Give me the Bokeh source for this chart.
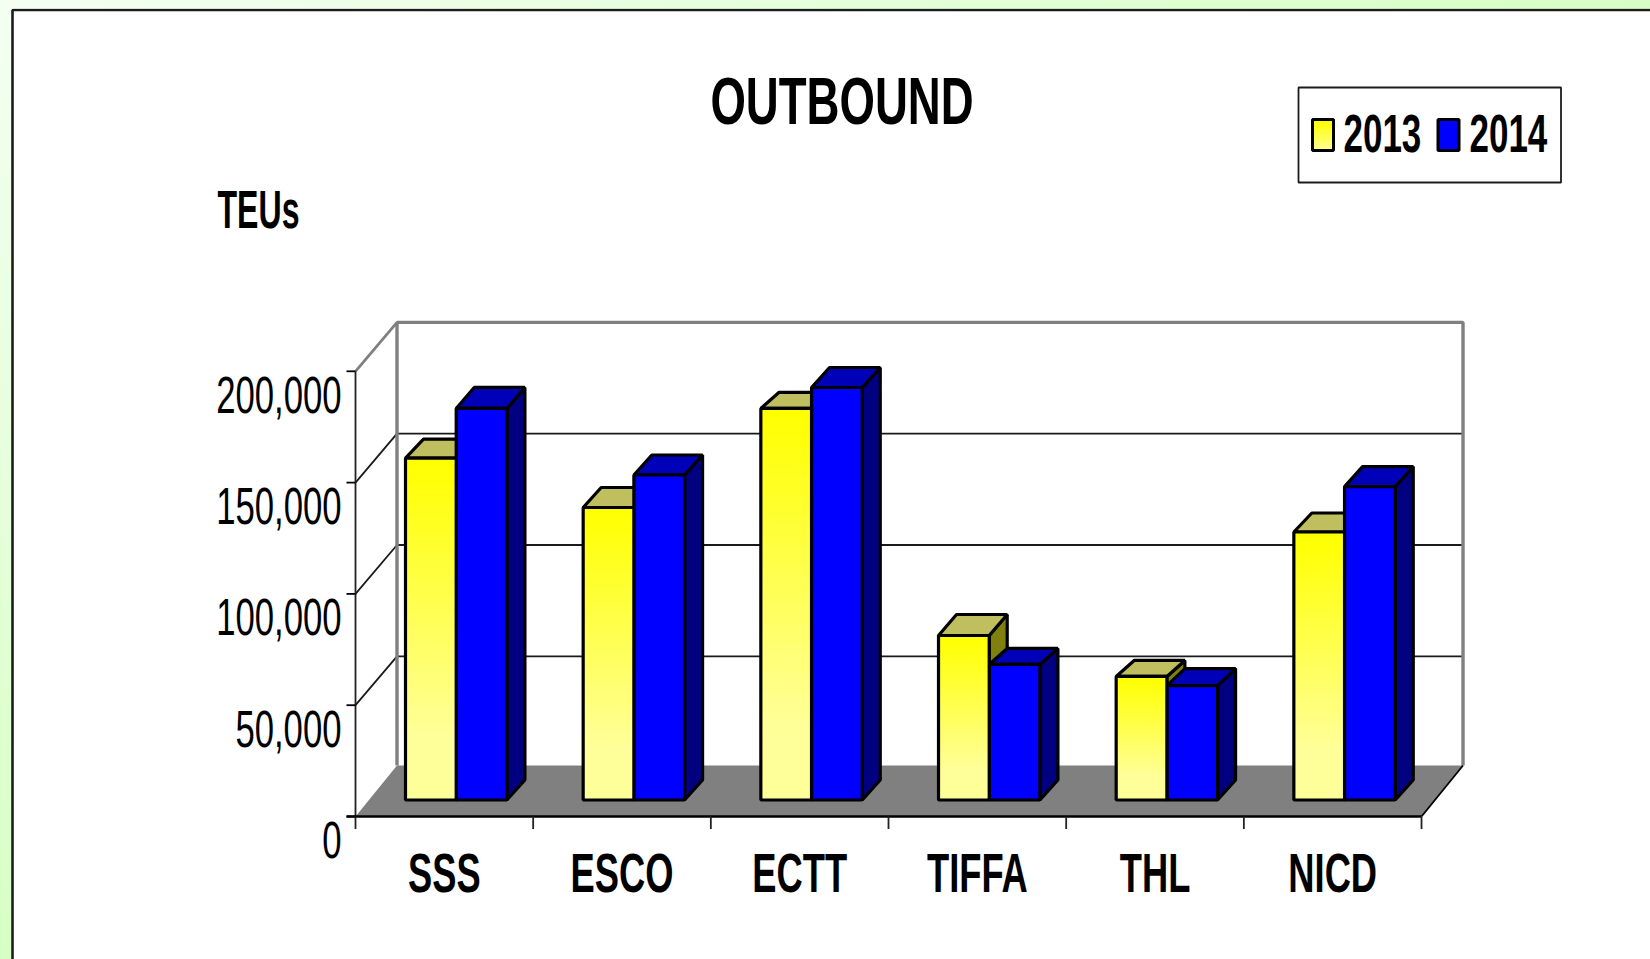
import json
from bokeh.plotting import figure
from bokeh.models import Range1d
from bokeh.embed import file_html
from bokeh.resources import INLINE
from bokeh.core.properties import value

# ---- data
categories = ["SSS", "ESCO", "ECTT", "TIFFA", "THL", "NICD"]
teu_2013 = [153600, 131400, 175900, 73900, 55500, 120400]
teu_2014 = [175900, 146000, 185300, 60900, 51400, 140800]
series_names = ["2013", "2014"]
y_ticks = [0, 50000, 100000, 150000, 200000]
y_tick_labels = ["0", "50,000", "100,000", "150,000", "200,000"]

# ---- layout: page pixels of the front plane origin, and scale
W, H = 1642, 951
ORIGIN_X, ORIGIN_Y = 355.0, 816.0
PX_PER_CAT = 177.67
PX_PER_TEU = 111.3 / 50000

def X(px):
    return (px - ORIGIN_X) / PX_PER_CAT

def Y(py):
    return (ORIGIN_Y - py) / PX_PER_TEU

def DX(px):
    return px / PX_PER_CAT

def DY(px):
    return px / PX_PER_TEU

WALL_DX, WALL_DY = DX(41.5), DY(48.9)
FLOOR_DY = DY(51)
BAR_DX, BAR_DY = DX(18), DY(20)
BAR_LIFT = DY(16.5)
BAR_START = DX(50)
BAR_W = DX(50.7)
TOP_DEPTH_2013 = [19, 20, 16, 21, 16, 19]
TOP_DEPTH_2014 = [21, 20, 20, 16, 17, 20]
n_cat = len(categories)
y_top = y_ticks[-1]

FONT = value("Liberation Sans")

p = figure(width=W, height=H, output_backend="svg", toolbar_location=None,
           x_range=Range1d(X(8), X(8 + W)), y_range=Range1d(Y(8 + H), Y(8)),
           min_border=0, min_border_left=0, min_border_right=0,
           min_border_top=0, min_border_bottom=0)
p.xaxis.visible = False
p.yaxis.visible = False
p.grid.visible = False
p.outline_line_color = None
p.background_fill_color = None
p.border_fill_color = None

# outer frame
p.line([X(1700), X(12), X(12), ], [Y(9.5), Y(9.5), Y(1000)], line_color="#1c1c1c", line_width=2.6)

GRAY = "#808080"
# floor
p.patch([0, n_cat, n_cat + WALL_DX, WALL_DX], [0, 0, FLOOR_DY, FLOOR_DY], fill_color=GRAY, line_color=None)

# back wall gridlines and side wall lines
for t in y_ticks[1:-1]:
    p.line([0, WALL_DX, n_cat + WALL_DX], [t, t + WALL_DY, t + WALL_DY], line_color="#1a1a1a", line_width=1.8)
# back wall outline
p.line([WALL_DX, WALL_DX, n_cat + WALL_DX, n_cat + WALL_DX],
       [FLOOR_DY, y_top + WALL_DY, y_top + WALL_DY, FLOOR_DY], line_color=GRAY, line_width=3.4)
p.line([0, WALL_DX], [y_top, y_top + WALL_DY], line_color=GRAY, line_width=2.8)

# front axes
p.line([0, 0], [0, y_top], line_color="#222222", line_width=1.8)
p.line([n_cat, n_cat + WALL_DX], [0, FLOOR_DY], line_color="black", line_width=1.8)
p.line([-DX(9), n_cat], [0, 0], line_color="black", line_width=2.4)
for t in y_ticks:
    p.line([-DX(9), 0], [t, t], line_color="black", line_width=1.8)
for i in range(n_cat + 1):
    p.line([i, i], [0, -DY(12.5)], line_color="#222222", line_width=1.8)

# bars
def left(i, s):
    return i + BAR_START + s * BAR_W

def side_patch(i, s, v, d):
    x1 = left(i, s) + BAR_W
    return ([x1, x1 + BAR_DX, x1 + BAR_DX, x1],
            [BAR_LIFT, BAR_LIFT + BAR_DY, BAR_LIFT + DY(d) + v, BAR_LIFT + v])

def top_patch(i, s, v, d):
    x0 = left(i, s)
    x1 = x0 + BAR_W
    yy = BAR_LIFT + v
    return ([x0, x1, x1 + BAR_DX, x0 + BAR_DX], [yy, yy, yy + DY(d), yy + DY(d)])

LW = 3.2
def faces(s, values, depths, side_col, top_col):
    sp = [side_patch(i, s, v, d) for i, (v, d) in enumerate(zip(values, depths))]
    p.patches([a for a, _ in sp], [b for _, b in sp], fill_color=side_col, line_color="black", line_width=LW)
    tp = [top_patch(i, s, v, d) for i, (v, d) in enumerate(zip(values, depths))]
    p.patches([a for a, _ in tp], [b for _, b in tp], fill_color=top_col, line_color="black", line_width=LW)

faces(0, teu_2013, TOP_DEPTH_2013, "#80800f", "#bfbf60")
faces(1, teu_2014, TOP_DEPTH_2014, "#000080", "#0000b8")

p.quad(left=[left(i, 1) for i in range(n_cat)], right=[left(i, 1) + BAR_W for i in range(n_cat)],
       bottom=BAR_LIFT, top=[BAR_LIFT + v for v in teu_2014],
       fill_color="#0000ff", line_color="black", line_width=LW)

# yellow fronts: vertical fade made of nested rectangles
STEPS = 40
def fade(t):
    return "#ffff%02x" % int(round(0x99 * t))

for k in range(STEPS):
    t = k / STEPS
    p.quad(left=[left(i, 0) for i in range(n_cat)], right=[left(i, 0) + BAR_W for i in range(n_cat)],
           bottom=BAR_LIFT, top=[BAR_LIFT + v * (1 - t) for v in teu_2013],
           fill_color=fade(min(1.0, t * 1.25)), line_color=None)
p.quad(left=[left(i, 0) for i in range(n_cat)], right=[left(i, 0) + BAR_W for i in range(n_cat)],
       bottom=BAR_LIFT, top=[BAR_LIFT + v for v in teu_2013],
       fill_color=None, line_color="black", line_width=LW)

# texts
p.text(x=[X(341)] * len(y_ticks), y=y_ticks, text=y_tick_labels, text_font=FONT,
       text_font_size="51px", text_color="black", text_align="right", text_baseline="middle", y_offset=23.5)
p.text(x=[i + 0.5 for i in range(n_cat)], y=[Y(872)] * n_cat, text=categories, text_font=FONT,
       text_font_style="bold", text_font_size="55px", text_color="black", text_align="center", text_baseline="middle")
p.text(x=[X(841.5)], y=[Y(100)], text=["OUTBOUND"], text_font=FONT, text_font_style="bold",
       text_font_size="66px", text_color="black", text_align="center", text_baseline="middle")
p.text(x=[X(217)], y=[Y(208)], text=["TEUs"], text_font=FONT, text_font_style="bold",
       text_font_size="54px", text_color="black", text_align="left", text_baseline="middle")

# legend
p.quad(left=[X(1298)], right=[X(1560.5)], top=[Y(87)], bottom=[Y(182)], fill_color="white",
       line_color="#1c1c1c", line_width=1.8)
sw_left = [X(1312), X(1437.5)]
sw_w = DX(21)
sw_top, sw_bottom = Y(119), Y(150)
for k in range(12):
    t = k / 12
    p.quad(left=[sw_left[0]], right=[sw_left[0] + sw_w], bottom=[sw_bottom],
           top=[sw_top - (sw_top - sw_bottom) * t], fill_color=fade(t), line_color=None)
p.quad(left=[sw_left[0]], right=[sw_left[0] + sw_w], bottom=[sw_bottom], top=[sw_top],
       fill_color=None, line_color="black", line_width=3)
p.quad(left=[sw_left[1]], right=[sw_left[1] + sw_w], bottom=[sw_bottom], top=[sw_top],
       fill_color="#0000ff", line_color="black", line_width=3)
p.text(x=[X(1343), X(1469)], y=[Y(132.5)] * 2, text=series_names, text_font=FONT, text_font_style="bold",
       text_font_size="53px", text_color="black", text_align="left", text_baseline="middle")

# The reference's type is a strongly condensed face, and none is installed:
# squeeze the real SVG texts horizontally once Bokeh has drawn them.
# Each entry: [horizontal factor, anchor fraction kept in place].
squeeze = {"OUTBOUND": [0.69, 0.5], "TEUs": [0.594, 0]}
for s in y_tick_labels:
    squeeze[s] = [0.68, 1]
for s in categories:
    squeeze[s] = [0.66, 0.5]
for s in series_names:
    squeeze[s] = [0.66, 0]

script = """<script>(function(){
var F=%s;
function walk(r,o){r.querySelectorAll('*').forEach(function(e){
 if(e.tagName==='text')o.push(e);
 if(e.shadowRoot)walk(e.shadowRoot,o);});return o;}
function go(){walk(document,[]).forEach(function(t){
 var f=F[t.textContent];
 if(f&&!t.getAttribute('textLength')){
  var w=t.getComputedTextLength();
  if(w>0){
   var x=parseFloat(t.getAttribute('x')||'0');
   t.setAttribute('x',(x+w*(1-f[0])*f[1]).toFixed(1));
   t.setAttribute('lengthAdjust','spacingAndGlyphs');
   t.setAttribute('textLength',(w*f[0]).toFixed(1));
  }
 }});}
var n=0,h=setInterval(function(){go();if(++n>200)clearInterval(h);},25);
})();</script>""" % json.dumps(squeeze)

html = file_html(p, INLINE)
css = ("<style>html{overflow:hidden;height:100%;"
       "background:linear-gradient(#fff,#fff) 11px 9px no-repeat,"
       "linear-gradient(to bottom right,#f4fff2 0%,#d4ffc0 55%,#c8ffa8 100%);}"
       "body{margin:8px 0 0 8px;background:transparent;overflow:hidden;}</style>")
html = html.replace("</head>", css + "</head>", 1).replace("</body>", script + "</body>", 1)
open("out.html", "w").write(html)
